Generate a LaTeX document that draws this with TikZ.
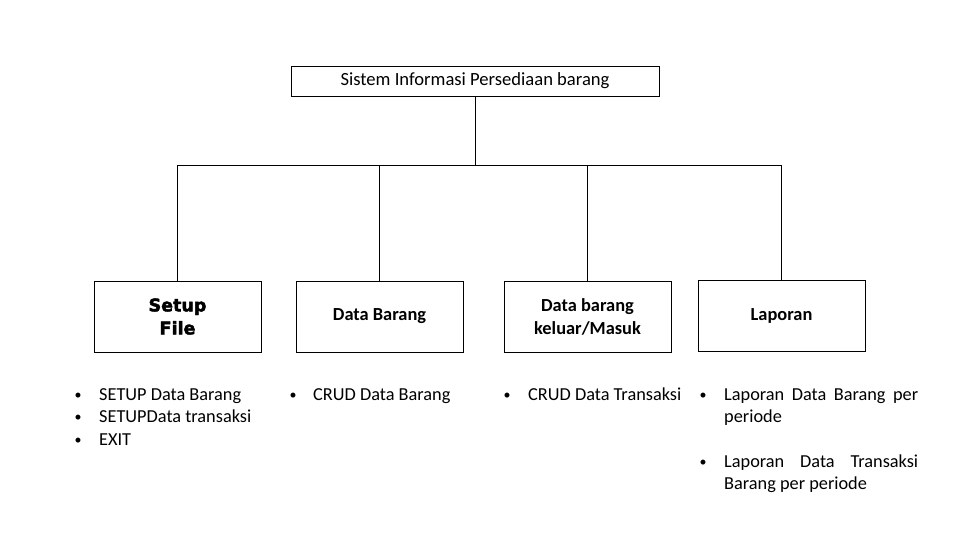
\documentclass[tikz,border=0pt]{standalone}
\usepackage{fontspec}
\setmainfont{Carlito}
\newfontfamily\heavyfont{DejaVu Sans}[BoldFeatures={FakeBold=2.5}]
\begin{document}
\begin{tikzpicture}[x=1pt,y=-1pt,
  box/.style={draw,line width=0.9pt,rectangle,minimum width=167pt,minimum height=71pt,inner sep=0pt,align=center,font=\fontsize{18.4}{23}\selectfont\bfseries},
  conn/.style={draw,line width=0.9pt},
  item/.style={anchor=base west,inner sep=0pt,font=\fontsize{18.3}{22}\selectfont},
  bul/.style={anchor=base,inner sep=0pt,font=\fontsize{14}{22}\selectfont}]
\useasboundingbox (0,0) rectangle (961,540);
\node[draw,line width=0.9pt,minimum width=368pt,minimum height=30pt,inner sep=0pt,font=\fontsize{18.6}{22}\selectfont] (top) at (475,81) {\raisebox{-1pt}{Sistem Informasi Persediaan barang}};
\node[box,font=\fontsize{17.5}{23}\selectfont\heavyfont\bfseries] (b1) at (177.5,316.5) {Setup\\File};
\node[box] (b2) at (379.5,316.5) {\raisebox{-2pt}{Data Barang}};
\node[box] (b3) at (587.5,317) {Data barang\\keluar/Masuk};
\node[box] (b4) at (781.5,315.5) {\raisebox{-2.5pt}{Laporan}};
\coordinate (j) at (475,165);
\draw[conn] (top.south) -- (j);
\draw[conn] (b1.north) |- (j);
\draw[conn] (b4.north) |- (j);
\draw[conn] (b2.north) -- (b2.north |- j);
\draw[conn] (b3.north) -- (b3.north |- j);
% column 1
\node[bul] (p1) at (78,399) {\textbullet};
\node[item] (t1) at (99,400) {SETUP Data Barang};
\node[bul] (p2) at (78,421.5) {\textbullet};
\node[item] (t2) at (99,422.5) {SETUPData transaksi};
\node[bul] (p3) at (78,444) {\textbullet};
\node[item] (t3) at (99,445) {EXIT};
% column 2
\node[bul] (p4) at (293,399) {\textbullet};
\node[item] (t4) at (313,400) {CRUD Data Barang};
% column 3
\node[bul] (p5) at (507,399) {\textbullet};
\node[item] (t5) at (528,400) {CRUD Data Transaksi};
% column 4
\node[bul] (p6) at (703,399) {\textbullet};
\node[item] (t6) at (724,400) {\makebox[194pt][s]{Laporan Data Barang per}};
\node[item] (t7) at (724,422.5) {periode};
\node[bul] (p7) at (703,466) {\textbullet};
\node[item] (t8) at (724,467) {\makebox[194pt][s]{Laporan Data Transaksi}};
\node[item] (t9) at (724,489.5) {Barang per periode};
\end{tikzpicture}
\end{document}
